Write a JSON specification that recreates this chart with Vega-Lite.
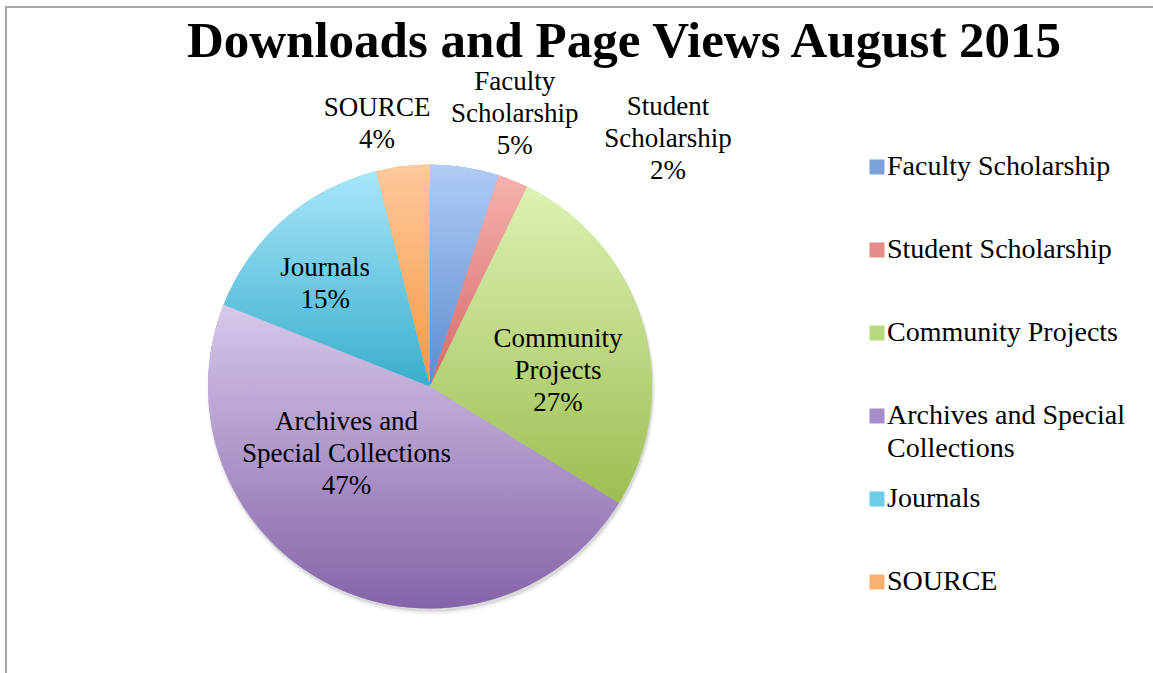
{
  "$schema": "https://vega.github.io/schema/vega-lite/v6.json",
  "autosize": "none",
  "width": 1160,
  "height": 680,
  "padding": {"left": 6, "top": 7, "right": 0, "bottom": 0},
  "background": "white",
  "view": {"stroke": "#a6a6a6", "strokeWidth": 2},
  "config": {"view": {"stroke": "#a6a6a6", "strokeWidth": 2}, "style": {"guide-label": {"lineHeight": 33}}},
  "title": {
    "text": "Downloads and Page Views August 2015",
    "font": "Liberation Serif",
    "fontSize": 51,
    "fontWeight": "bold",
    "color": "black",
    "anchor": "middle",
    "frame": "group",
    "baseline": "alphabetic",
    "offset": -53,
    "dx": 38,
    "dy": 48
  },
  "data": {
    "values": [
      {"category": "Faculty Scholarship", "label": "Faculty\nScholarship", "value": 5.0, "rank": 1},
      {"category": "Student Scholarship", "label": "Student\nScholarship", "value": 2.2, "rank": 2},
      {"category": "Community Projects", "label": "Community\nProjects", "value": 26.6, "rank": 3},
      {"category": "Archives and Special Collections", "label": "Archives and\nSpecial Collections", "value": 47.2, "rank": 4},
      {"category": "Journals", "label": "Journals", "value": 15.1, "rank": 5},
      {"category": "SOURCE", "label": "SOURCE", "value": 3.9, "rank": 6}
    ]
  },
  "transform": [
    {"calculate": "datum.label + '\\n' + format(datum.value / 100, '.0%')", "as": "labeltext"}
  ],
  "encoding": {
    "theta": {"field": "value", "type": "quantitative", "stack": true},
    "order": {"field": "rank", "type": "quantitative"}
  },
  "layer": [
    {
      "mark": {"type": "arc", "x": 425, "y": 383.5, "outerRadius": 224, "strokeWidth": 0, "fill": "#000000", "opacity": 0.05}
    },
    {
      "mark": {"type": "arc", "x": 425, "y": 382.5, "outerRadius": 222.5, "strokeWidth": 0, "fill": "#000000", "opacity": 0.1}
    },
    {
      "mark": {"type": "arc", "x": 424, "y": 379.5, "outerRadius": 222, "strokeWidth": 0},
      "encoding": {
        "color": {
          "field": "category",
          "type": "nominal",
          "scale": {
            "domain": ["Faculty Scholarship", "Student Scholarship", "Community Projects", "Archives and Special Collections", "Journals", "SOURCE"],
            "range": ["#7aa2dd", "#e58b89", "#b8d87e", "#a68dc9", "#6ccde6", "#fab06c"]
          },
          "legend": {
            "title": null,
            "orient": "none",
            "legendX": 857,
            "legendY": 146,
            "symbolType": "square",
            "symbolSize": 225,
            "symbolStrokeWidth": 0,
            "symbolOpacity": 1,
            "labelFont": "Liberation Serif",
            "labelFontSize": 28,
            "labelColor": "black",
            "labelLimit": 300,
            "labelOffset": -4,
            "gridAlign": "all",
            "rowPadding": 22,
            "labelExpr": "datum.label === 'Archives and Special Collections' ? ['Archives and Special', 'Collections'] : datum.label"
          }
        }
      }
    },
    {
      "mark": {"type": "arc", "x": 424, "y": 379.5, "outerRadius": 222, "strokeWidth": 0,
        "fill": {"gradient": "linear", "x1": 0, "y1": 0, "x2": 0, "y2": 1, "stops": [{"offset": 0, "color": "#b0ccf6"}, {"offset": 1, "color": "#5a8dcf"}]}},
      "encoding": {"opacity": {"condition": {"test": "datum.category === 'Faculty Scholarship'", "value": 1}, "value": 0}}
    },
    {
      "mark": {"type": "arc", "x": 424, "y": 379.5, "outerRadius": 222, "strokeWidth": 0,
        "fill": {"gradient": "linear", "x1": 0, "y1": 0, "x2": 0, "y2": 1, "stops": [{"offset": 0, "color": "#f6b2ae"}, {"offset": 1, "color": "#d66866"}]}},
      "encoding": {"opacity": {"condition": {"test": "datum.category === 'Student Scholarship'", "value": 1}, "value": 0}}
    },
    {
      "mark": {"type": "arc", "x": 424, "y": 379.5, "outerRadius": 222, "strokeWidth": 0,
        "fill": {"gradient": "linear", "x1": 0, "y1": 0, "x2": 0, "y2": 1, "stops": [{"offset": 0, "color": "#ddf1b3"}, {"offset": 1, "color": "#9dbe52"}]}},
      "encoding": {"opacity": {"condition": {"test": "datum.category === 'Community Projects'", "value": 1}, "value": 0}}
    },
    {
      "mark": {"type": "arc", "x": 424, "y": 379.5, "outerRadius": 222, "strokeWidth": 0,
        "fill": {"gradient": "linear", "x1": 0, "y1": 0, "x2": 0, "y2": 1, "stops": [{"offset": 0, "color": "#d7c8ea"}, {"offset": 1, "color": "#8564a9"}]}},
      "encoding": {"opacity": {"condition": {"test": "datum.category === 'Archives and Special Collections'", "value": 1}, "value": 0}}
    },
    {
      "mark": {"type": "arc", "x": 424, "y": 379.5, "outerRadius": 222, "strokeWidth": 0,
        "fill": {"gradient": "linear", "x1": 0, "y1": 0, "x2": 0, "y2": 1, "stops": [{"offset": 0, "color": "#a8e6fb"}, {"offset": 1, "color": "#39aecb"}]}},
      "encoding": {"opacity": {"condition": {"test": "datum.category === 'Journals'", "value": 1}, "value": 0}}
    },
    {
      "mark": {"type": "arc", "x": 424, "y": 379.5, "outerRadius": 222, "strokeWidth": 0,
        "fill": {"gradient": "linear", "x1": 0, "y1": 0, "x2": 0, "y2": 1, "stops": [{"offset": 0, "color": "#fdc99c"}, {"offset": 1, "color": "#f79841"}]}},
      "encoding": {"opacity": {"condition": {"test": "datum.category === 'SOURCE'", "value": 1}, "value": 0}}
    },
    {
      "mark": {
        "type": "text",
        "x": 424,
        "y": 379.5,
        "font": "Liberation Serif",
        "fontSize": 27,
        "color": "black",
        "lineBreak": "\n",
        "lineHeight": 32,
        "align": "center",
        "baseline": "middle",
        "radius": {"expr": "datum.category === 'Faculty Scholarship' ? 286 : datum.category === 'Student Scholarship' ? 318 : datum.category === 'Community Projects' ? 127 : datum.category === 'Archives and Special Collections' ? 97 : datum.category === 'Journals' ? 147 : 269"},
        "dx": {"expr": "datum.category === 'Faculty Scholarship' ? 40 : datum.category === 'Student Scholarship' ? 119 : datum.category === 'Community Projects' ? 6 : datum.category === 'Archives and Special Collections' ? -40 : datum.category === 'Journals' ? -8 : -20"},
        "dy": {"expr": "datum.category === 'Faculty Scholarship' ? -22 : datum.category === 'Student Scholarship' ? 15 : datum.category === 'Community Projects' ? -12 : datum.category === 'Archives and Special Collections' ? -51 : datum.category === 'Journals' ? -8 : -12"}
      },
      "encoding": {
        "text": {"field": "labeltext", "type": "nominal"}
      }
    }
  ]
}
